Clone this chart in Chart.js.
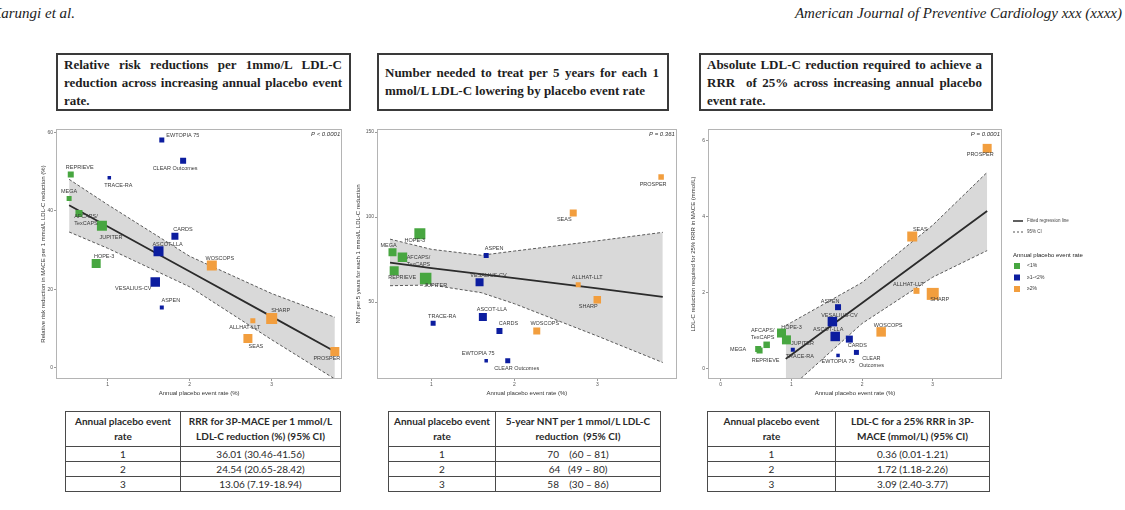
<!DOCTYPE html>
<html>
<head>
<meta charset="utf-8">
<script src="https://cdn.jsdelivr.net/npm/chart.js@4.4.0/dist/chart.umd.min.js"></script>
<style>
  body { margin: 0; width: 1125px; height: 510px; background: #fff; position: relative; overflow: hidden;
         font-family: "Liberation Sans", Arial, sans-serif; }
  .run { position: absolute; top: 5px; font-family: "Liberation Serif", serif; font-style: italic;
         font-size: 15px; color: #222; white-space: nowrap; }
  .box { position: absolute; top: 53px; height: 58px; border: 2px solid #3a3a3a; box-sizing: border-box;
         font-family: "Liberation Serif", serif; font-weight: bold; font-size: 13px; color: #1e1e1e;
         line-height: 18px; }
  .jl { text-align: justify; text-align-last: justify; }
  .ll { text-align: left; }
  canvas { position: absolute; top: 120px; }
  table { position: absolute; top: 411px; border-collapse: collapse; table-layout: fixed;
          font-family: Lato, "Liberation Sans", Arial, sans-serif; font-size: 10px; color: #2a2a2a; }
  td, th { border: 1.5px solid #4a4a4a; padding: 0; text-align: center; white-space: nowrap; overflow: hidden; }
  th { font-weight: bold; height: 34px; line-height: 15px; }
  td { height: 14px; line-height: 14px; }
</style>
</head>
<body>

<div class="run" style="right:1050px;">Karungi et al.</div>
<div class="run" style="right:3px;">American Journal of Preventive Cardiology xxx (xxxx)</div>

<div class="box" style="left:56px;width:295px;padding:1px 7px 0 6px;">
  <div class="jl">Relative risk reductions per 1mmo/L LDL-C</div>
  <div class="jl">reduction across increasing annual placebo event</div>
  <div class="ll">rate.</div>
</div>
<div class="box" style="left:377px;width:292px;padding:9px 8px 0 6px;line-height:18.4px;">
  <div class="jl">Number needed to treat per 5 years for each 1</div>
  <div class="ll">mmol/L LDL-C lowering by placebo event rate</div>
</div>
<div class="box" style="left:699px;width:294px;padding:1px 9px 0 6px;">
  <div class="jl">Absolute LDL-C reduction required to achieve a</div>
  <div class="jl">RRR &nbsp;of 25% across increasing annual placebo</div>
  <div class="ll">event rate.</div>
</div>

<canvas id="chart-rrr" width="310" height="277" style="left:40px;"></canvas>
<canvas id="chart-nnt" width="330" height="277" style="left:355px;"></canvas>
<canvas id="chart-ldl" width="435" height="277" style="left:690px;"></canvas>

<table id="table-rrr" style="left:65px;"></table>
<table id="table-nnt" style="left:388px;"></table>
<table id="table-ldl" style="left:707px;"></table>

<script>
// 試験ごとのデータ
const trials = ['REPRIEVE', 'MEGA', 'AFCAPS/TexCAPS', 'JUPITER', 'HOPE-3', 'TRACE-RA', 'EWTOPIA 75',
  'CLEAR Outcomes', 'CARDS', 'ASCOT-LLA', 'VESALIUS-CV', 'ASPEN', 'WOSCOPS', 'ALLHAT-LLT', 'SHARP', 'SEAS', 'PROSPER'];
const eventRate = [0.55, 0.53, 0.65, 0.93, 0.86, 1.02, 1.66, 1.92, 1.82, 1.62, 1.58, 1.66, 2.27, 2.77, 3.00, 2.71, 3.77];
const rateGroup = [0, 0, 0, 0, 0, 1, 1, 1, 1, 1, 1, 1, 2, 2, 2, 2, 2];
const groupNames = ['<1%', '\u22651-<2%', '\u22652%'];

const rrrValues = [49.2, 43.1, 39.3, 36.2, 26.6, 48.4, 58.0, 52.7, 33.5, 29.7, 21.9, 15.4, 26.1, 12.0, 12.6, 7.5, 4.2];
const rrrWeight = [6, 5, 7, 10, 9, 3.5, 5, 6, 7, 10, 9.5, 4, 10, 5, 11, 9, 9];
const nntValues = [68.4, 79.3, 76.3, 63.9, 90.1, 37.5, 15.5, 15.5, 33, 41.2, 61.7, 77.3, 33, 60.1, 51.3, 102.4, 123.5];
const nntWeight = [9, 8, 9.5, 11.5, 11, 5, 3.5, 5, 6, 8, 8, 5, 7, 5, 7.5, 7, 5.5];
const ldlValues = [0.47, 0.51, 0.62, 0.75, 0.93, 0.49, 0.34, 0.42, 0.77, 0.84, 1.23, 1.61, 0.96, 2.04, 1.96, 3.47, 5.79];
const ldlWeight = [6, 6, 6.5, 9, 9, 4, 3.5, 5, 7, 9.5, 9.5, 6, 9.5, 6, 12, 10, 9];

// 回帰直線と95%CI
const rrrFitX = [0.53, 1, 2, 3, 3.77];
const rrrFit = [41.4, 36.01, 24.54, 13.06, 4.2];
const rrrLow = [34.6, 30.46, 20.65, 7.19, -2.8];
const rrrHigh = [48.0, 41.56, 28.42, 18.94, 12.9];
const nntFitX = [0.5, 1, 1.6, 2, 3, 3.79];
const nntFit = [73.2, 70, 66.4, 64, 58, 53];
const nntLow = [59.6, 60, 55.5, 49, 30, 14.4];
const nntHigh = [87, 81, 77.5, 80, 86, 91];
const ldlFitX = [0.92, 1, 2, 3, 3.77];
const ldlFit = [0.25, 0.36, 1.72, 3.09, 4.14];
const ldlLow = [-0.6, -0.49, 1.18, 2.40, 3.1];
const ldlHigh = [1.13, 1.21, 2.26, 3.77, 5.16];

// 目盛り
const xTicksRrr = [1, 2, 3];
const yTicksRrr = [0, 20, 40, 60];
const xTicksNnt = [1, 2, 3];
const yTicksNnt = [50, 100, 150];
const xTicksLdl = [0, 1, 2, 3];
const yTicksLdl = [0, 2, 4, 6];

// 表
const tableRates = ['1', '2', '3'];
const rrrTable = ['36.01 (30.46-41.56)', '24.54 (20.65-28.42)', '13.06 (7.19-18.94)'];
const nntTable = ['70 \u00a0\u00a0 (60 \u2013 81)', '64 \u00a0 (49 \u2013 80)', '58 \u00a0\u00a0 (30 \u2013 86)'];
const ldlTable = ['0.36 (0.01-1.21)', '1.72 (1.18-2.26)', '3.09 (2.40-3.77)'];

const colorList = ['#47a640', '#0c1d9f', '#f29e3e'];
const fontFamily = '"Liberation Sans", Arial, sans-serif';
Chart.defaults.font.family = fontFamily;

// ラベル位置 [dx, dy, 表示テキスト]
const rrrLabelPos = {
  'REPRIEVE': [9, -7], 'MEGA': [0, -7], 'AFCAPS/TexCAPS': [7, 3, 'AFCAPS/\nTexCAPS'], 'JUPITER': [9, 12],
  'HOPE-3': [8, -7], 'TRACE-RA': [9, 8], 'EWTOPIA 75': [21, -5], 'CLEAR Outcomes': [-8, 8], 'CARDS': [8, -7],
  'ASCOT-LLA': [9, -7], 'VESALIUS-CV': [-22, 7], 'ASPEN': [9, -7], 'WOSCOPS': [8, -7], 'ALLHAT-LLT': [-8, 7],
  'SHARP': [9, -8], 'SEAS': [8, 8], 'PROSPER': [-8, 7]
};
const nntLabelPos = {
  'REPRIEVE': [8, 7], 'MEGA': [-4, -7], 'AFCAPS/TexCAPS': [16, 0, 'AFCAPS/\nTexCAPS'], 'JUPITER': [10, 7],
  'HOPE-3': [-5, 7], 'TRACE-RA': [9, -7], 'EWTOPIA 75': [-8, -7], 'CLEAR Outcomes': [9, 8], 'CARDS': [9, -7],
  'ASCOT-LLA': [9, -7], 'VESALIUS-CV': [9, -7], 'ASPEN': [8, -7], 'WOSCOPS': [8, -7], 'ALLHAT-LLT': [9, -7],
  'SHARP': [-9, 7], 'SEAS': [-9, 7], 'PROSPER': [-8, 7]
};
const ldlLabelPos = {
  'REPRIEVE': [6, 10], 'MEGA': [-20, 0], 'AFCAPS/TexCAPS': [-4, -14, 'AFCAPS/\nTexCAPS'], 'JUPITER': [16, 4],
  'HOPE-3': [10, -6], 'TRACE-RA': [7, 7], 'EWTOPIA 75': [0, 6], 'CLEAR Outcomes': [15, 6, 'CLEAR\nOutcomes'],
  'CARDS': [8, 6], 'ASCOT-LLA': [-7, -7], 'VESALIUS-CV': [7, -6], 'ASPEN': [-8, -6], 'WOSCOPS': [7, -6],
  'ALLHAT-LLT': [-8, -6], 'SHARP': [7, 6], 'SEAS': [8, -7], 'PROSPER': [-7, 6]
};

function makeOverlayPlugin(values, labelPos, pText) {
  return {
    id: 'overlay',
    afterDatasetsDraw: function (chart) {
      const ctx = chart.ctx;
      const xs = chart.scales.x;
      const ys = chart.scales.y;
      const area = chart.chartArea;
      ctx.save();
      // 枠
      ctx.strokeStyle = '#b4b4b4';
      ctx.lineWidth = 1;
      ctx.strokeRect(Math.round(area.left) + 0.5, Math.round(area.top) + 0.5,
        Math.round(area.right - area.left) - 1, Math.round(area.bottom - area.top) - 1);
      // 試験名ラベル
      ctx.font = '5.5px ' + fontFamily;
      ctx.fillStyle = '#3a3a3a';
      ctx.textAlign = 'center';
      ctx.textBaseline = 'middle';
      trials.forEach(function (name, i) {
        const pos = labelPos[name];
        if (!pos) return;
        const px = xs.getPixelForValue(eventRate[i]);
        const py = ys.getPixelForValue(values[i]);
        const text = pos[2] || name;
        text.split('\n').forEach(function (line, k) {
          ctx.fillText(line, px + pos[0], py + pos[1] + k * 7);
        });
      });
      // P値
      ctx.font = 'italic 6px ' + fontFamily;
      ctx.fillStyle = '#333';
      ctx.textAlign = 'right';
      ctx.fillText(pText, area.right - 2, area.top + 5);
      ctx.restore();
    }
  };
}

const legendPlugin = {
  id: 'sideLegend',
  afterDraw: function (chart) {
    const ctx = chart.ctx;
    const area = chart.chartArea;
    const x0 = area.right + 11;
    const y0 = area.top;
    ctx.save();
    ctx.strokeStyle = '#2b2b2b';
    ctx.lineWidth = 1.5;
    ctx.beginPath(); ctx.moveTo(x0, y0 + 92); ctx.lineTo(x0 + 10, y0 + 92); ctx.stroke();
    ctx.strokeStyle = '#555';
    ctx.lineWidth = 1;
    ctx.setLineDash([2, 2]);
    ctx.beginPath(); ctx.moveTo(x0, y0 + 103); ctx.lineTo(x0 + 10, y0 + 103); ctx.stroke();
    ctx.setLineDash([]);
    ctx.textBaseline = 'middle';
    ctx.textAlign = 'left';
    ctx.fillStyle = '#444';
    ctx.font = '4.5px ' + fontFamily;
    ctx.fillText('Fitted regression line', x0 + 14, y0 + 92);
    ctx.fillText('95% CI', x0 + 14, y0 + 103);
    ctx.fillStyle = '#222';
    ctx.font = '6px ' + fontFamily;
    ctx.fillText('Annual placebo event rate', x0, y0 + 126);
    ctx.font = '5px ' + fontFamily;
    groupNames.forEach(function (g, k) {
      const cy = y0 + 137 + k * 11.5;
      ctx.fillStyle = colorList[k];
      ctx.fillRect(x0 + 1, cy - 3, 6, 6);
      ctx.fillStyle = '#333';
      ctx.fillText(g, x0 + 14, cy);
    });
    ctx.restore();
  }
};

function drawPanel(graphID, cfg) {
  const datasets = [];
  // 点（グループ別）
  groupNames.forEach(function (g, k) {
    const idx = [];
    trials.forEach(function (t, i) { if (rateGroup[i] === k) idx.push(i); });
    datasets.push({
      type: 'scatter',
      label: g,
      data: idx.map(function (i) { return { x: eventRate[i], y: cfg.values[i] }; }),
      pointStyle: 'rect',
      pointRadius: function (c) { return cfg.weight[idx[c.dataIndex]] / Math.SQRT2; },
      pointBorderWidth: 0,
      backgroundColor: colorList[k],
      borderColor: colorList[k]
    });
  });
  datasets.push({
    type: 'line',
    data: cfg.fitX.map(function (x, i) { return { x: x, y: cfg.fit[i] }; }),
    borderColor: '#2b2b2b', borderWidth: 1.8, pointRadius: 0, fill: false, tension: 0
  });
  datasets.push({
    type: 'line',
    data: cfg.fitX.map(function (x, i) { return { x: x, y: cfg.high[i] }; }),
    borderColor: '#5a5a5a', borderWidth: 1, borderDash: [3, 2], pointRadius: 0,
    fill: '+1', backgroundColor: '#d9d9d9', tension: 0
  });
  datasets.push({
    type: 'line',
    data: cfg.fitX.map(function (x, i) { return { x: x, y: cfg.low[i] }; }),
    borderColor: '#5a5a5a', borderWidth: 1, borderDash: [3, 2], pointRadius: 0, fill: false, tension: 0
  });

  const axisGrid = { drawOnChartArea: false, drawTicks: true, tickLength: 2, color: '#999' };
  const options = {
    responsive: false,
    animation: false,
    events: [],
    layout: { padding: { left: 0, top: 9, right: cfg.padRight, bottom: 0 } },
    scales: {
      x: {
        type: 'linear', min: cfg.xMin, max: cfg.xMax,
        afterBuildTicks: function (s) { s.ticks = cfg.xTicks.map(function (v) { return { value: v }; }); },
        afterFit: function (s) { s.height = 18; },
        grid: axisGrid,
        border: { display: false },
        ticks: { font: { size: 5 }, color: '#555', padding: 1, maxRotation: 0 },
        title: { display: true, text: 'Annual placebo event rate (%)', font: { size: 6 }, color: '#333', padding: 0 }
      },
      y: {
        type: 'linear', min: cfg.yMin, max: cfg.yMax,
        afterBuildTicks: function (s) { s.ticks = cfg.yTicks.map(function (v) { return { value: v }; }); },
        afterFit: function (s) { s.width = cfg.yWidth; },
        grid: axisGrid,
        border: { display: false },
        ticks: { font: { size: 5 }, color: '#555', padding: 1 },
        title: { display: true, text: cfg.yTitle, font: { size: 6 }, color: '#333', padding: 0 }
      }
    },
    plugins: {
      legend: { display: false },
      tooltip: { enabled: false },
      filler: { drawTime: 'beforeDatasetsDraw' }
    }
  };

  const plugins = [makeOverlayPlugin(cfg.values, cfg.labelPos, cfg.pText)];
  if (cfg.legend) plugins.push(legendPlugin);

  const ctx = document.getElementById('chart-' + graphID).getContext('2d');
  return new Chart(ctx, { type: 'scatter', data: { datasets: datasets }, options: options, plugins: plugins });
}

function fillTable(tableID, header, rows) {
  const table = document.getElementById(tableID);
  let html = '<colgroup><col style="width:' + header.w[0] + 'px"><col style="width:' + header.w[1] + 'px"></colgroup>';
  html += '<tr><th>Annual placebo event<br>rate</th><th>' + header.text + '</th></tr>';
  tableRates.forEach(function (r, i) {
    html += '<tr><td>' + r + '</td><td>' + rows[i] + '</td></tr>';
  });
  table.innerHTML = html;
}

drawPanel('rrr', {
  values: rrrValues, weight: rrrWeight, fitX: rrrFitX, fit: rrrFit, low: rrrLow, high: rrrHigh,
  xMin: 0.37, xMax: 3.86, yMin: -2.8, yMax: 60.8, xTicks: xTicksRrr, yTicks: yTicksRrr,
  yWidth: 16, padRight: 6, labelPos: rrrLabelPos, pText: 'P < 0.0001',
  yTitle: 'Relative risk reduction in MACE per 1 mmol/L LDL-C reduction (%)'
});
drawPanel('nnt', {
  values: nntValues, weight: nntWeight, fitX: nntFitX, fit: nntFit, low: nntLow, high: nntHigh,
  xMin: 0.343, xMax: 3.96, yMin: 4.7, yMax: 151.8, xTicks: xTicksNnt, yTicks: yTicksNnt,
  yWidth: 22, padRight: 6, labelPos: nntLabelPos, pText: 'P = 0.361',
  yTitle: 'NNT per 5 years for each 1 mmol/L LDL-C reduction'
});
drawPanel('ldl', {
  values: ldlValues, weight: ldlWeight, fitX: ldlFitX, fit: ldlFit, low: ldlLow, high: ldlHigh,
  xMin: -0.18, xMax: 3.98, yMin: -0.28, yMax: 6.3, xTicks: xTicksLdl, yTicks: yTicksLdl,
  yWidth: 18, padRight: 123, labelPos: ldlLabelPos, pText: 'P = 0.0001', legend: true,
  yTitle: 'LDL-C reduction required for 25% RRR in MACE (mmol/L)'
});

fillTable('table-rrr', { w: [115, 160], text: 'RRR for 3P-MACE per 1 mmol/L<br>LDL-C reduction (%) (95% CI)' }, rrrTable);
fillTable('table-nnt', { w: [107, 165], text: '5-year NNT per 1 mmol/L LDL-C<br>reduction &nbsp;(95% CI)' }, nntTable);
fillTable('table-ldl', { w: [128, 154], text: 'LDL-C for a 25% RRR in 3P-<br>MACE (mmol/L) (95% CI)' }, ldlTable);
</script>
</body>
</html>
